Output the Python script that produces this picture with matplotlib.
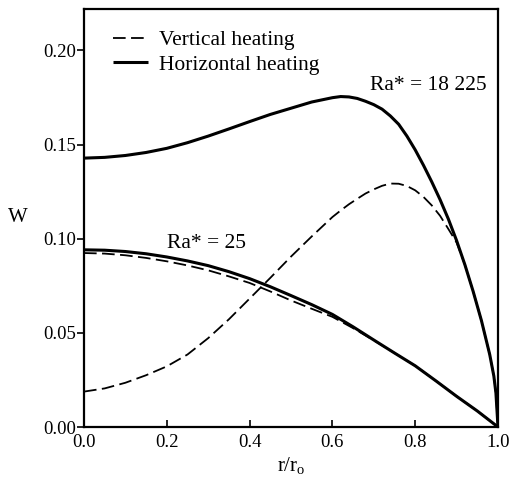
import numpy as np
import matplotlib

matplotlib.use('Agg')

import matplotlib.pyplot as plt

plt.rcParams['font.family'] = ['Liberation Serif', 'DejaVu Serif']
plt.rcParams['mathtext.fontset'] = 'custom'
plt.rcParams['mathtext.rm'] = 'Liberation Serif'

# Ra* = 18 225, horizontal heating (solid)
x_hi_h = [0.0, 0.05, 0.1, 0.15, 0.2, 0.25, 0.3, 0.35, 0.4, 0.45, 0.5, 0.55, 0.6, 0.62,
          0.64, 0.66, 0.68, 0.7, 0.72, 0.74, 0.76, 0.78, 0.8, 0.82, 0.84, 0.86, 0.88,
          0.9, 0.92, 0.94, 0.96, 0.98, 0.99, 0.995, 1.0]
w_hi_h = [0.1428, 0.1432, 0.1442, 0.1458, 0.1480, 0.1510, 0.1545, 0.1583, 0.1622, 0.1660,
          0.1693, 0.1726, 0.1749, 0.1755, 0.1753, 0.1745, 0.1730, 0.1712, 0.1688, 0.1652,
          0.1608, 0.1545, 0.1472, 0.1390, 0.1302, 0.1208, 0.1105, 0.0990, 0.0862, 0.0720,
          0.0565, 0.0385, 0.0270, 0.0180, 0.0]

# Ra* = 18 225, vertical heating (dashed)
x_hi_v = [0.0, 0.05, 0.1, 0.15, 0.2, 0.25, 0.3, 0.35, 0.4, 0.45, 0.5, 0.55, 0.6, 0.62,
          0.64, 0.66, 0.68, 0.7, 0.72, 0.74, 0.76, 0.78, 0.8, 0.82, 0.84, 0.86, 0.88,
          0.9, 0.92, 0.94, 0.96, 0.98, 0.99, 0.995, 1.0]
w_hi_v = [0.0188, 0.0205, 0.0235, 0.0275, 0.0322, 0.0385, 0.0472, 0.0572, 0.0682, 0.0792,
          0.0905, 0.1012, 0.1115, 0.1150, 0.1183, 0.1212, 0.1240, 0.1262, 0.1281, 0.1293,
          0.1292, 0.1280, 0.1257, 0.1222, 0.1177, 0.1122, 0.1052, 0.0980, 0.0862, 0.0720,
          0.0565, 0.0385, 0.0270, 0.0180, 0.0]

# Ra* = 25, horizontal heating (solid)
x_lo_h = [0.0, 0.05, 0.1, 0.15, 0.2, 0.25, 0.3, 0.35, 0.4, 0.45, 0.5, 0.55, 0.6, 0.65,
          0.7, 0.75, 0.8, 0.85, 0.9, 0.95, 1.0]
w_lo_h = [0.0941, 0.0939, 0.0932, 0.0920, 0.0903, 0.0882, 0.0857, 0.0825, 0.0788, 0.0745,
          0.0698, 0.0650, 0.0598, 0.0532, 0.0462, 0.0393, 0.0325, 0.0245, 0.0163, 0.0085, 0.0]

# Ra* = 25, vertical heating (dashed)
x_lo_v = [0.0, 0.05, 0.1, 0.15, 0.2, 0.25, 0.3, 0.35, 0.4, 0.45, 0.5, 0.55, 0.6, 0.65,
          0.7, 0.75, 0.8, 0.85, 0.9, 0.95, 1.0]
w_lo_v = [0.0924, 0.0921, 0.0912, 0.0898, 0.0880, 0.0858, 0.0832, 0.0800, 0.0765, 0.0720,
          0.0672, 0.0628, 0.0585, 0.0525, 0.0460, 0.0393, 0.0325, 0.0245, 0.0163, 0.0085, 0.0]

xticks = [0.0, 0.2, 0.4, 0.6, 0.8, 1.0]
yticks = [0.0, 0.05, 0.10, 0.15, 0.20]

fig = plt.figure(figsize=(5.14, 4.79), dpi=100)
ax = fig.add_axes([84 / 514, 52 / 479, 414 / 514, 418 / 479])

dash = (0, (7.0, 3.0))
lv, = ax.plot(x_hi_v, w_hi_v, color='black', lw=1.3, linestyle=dash)
ax.plot(x_lo_v, w_lo_v, color='black', lw=1.3, linestyle=dash)
lh, = ax.plot(x_hi_h, w_hi_h, color='black', lw=2.2, solid_capstyle='butt')
ax.plot(x_lo_h, w_lo_h, color='black', lw=2.2, solid_capstyle='butt')

ax.set_xlim(0, 1.0)
ax.set_ylim(0, 0.222)
ax.set_xticks(xticks)
ax.set_xticklabels(['%.1f' % t for t in xticks])
ax.set_yticks(yticks)
ax.set_yticklabels(['%.2f' % t for t in yticks])
ax.tick_params(axis='x', direction='in', length=5, width=1.2, labelsize=13.5, pad=5)
ax.tick_params(axis='y', direction='out', length=5, width=1.2, labelsize=13.5, pad=1)
for s in ax.spines.values():
    s.set_linewidth(1.6)

ax.set_xlabel(r'$\mathregular{r/r_o}$', fontsize=15, labelpad=3)
ax.set_ylabel('W', fontsize=15, rotation=0, labelpad=18, va='center')

ax.text(0.691, 0.179, 'Ra* = 18 225', fontsize=15.5, va='baseline')
ax.text(0.2, 0.0952, 'Ra* = 25', fontsize=15.5, va='baseline')

ax.legend([lv, lh], ['Vertical heating', 'Horizontal heating'], loc='upper left',
          bbox_to_anchor=(0.05, 0.97), frameon=False, fontsize=15.5, handlelength=1.6,
          handletextpad=0.5, labelspacing=0.2, borderaxespad=0.0)

fig.savefig('out.png', dpi=100)
